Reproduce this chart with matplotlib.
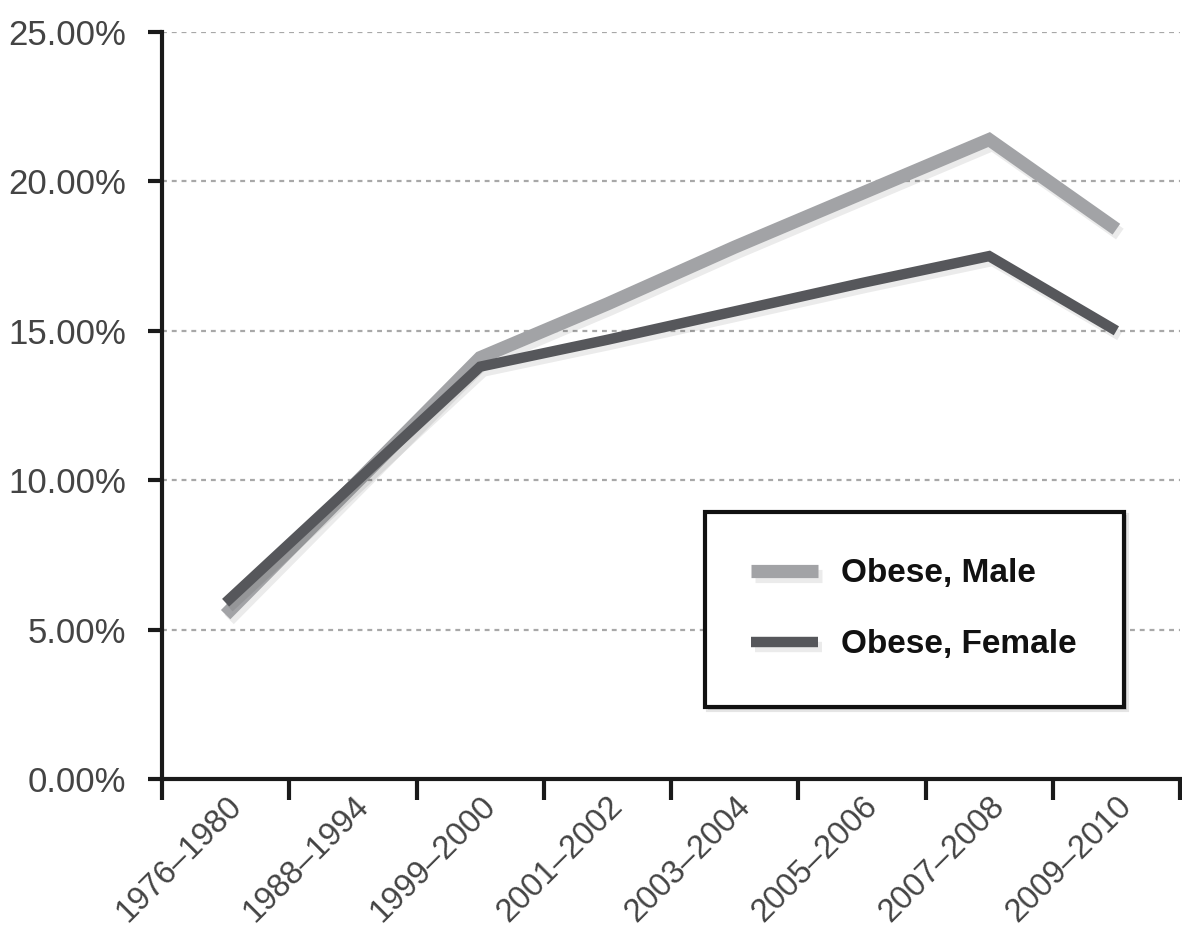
import matplotlib
matplotlib.use('Agg')
import matplotlib.pyplot as plt
import matplotlib.patheffects as pe
from matplotlib.ticker import FixedLocator, PercentFormatter

# Data
periodos = ['1976–1980', '1988–1994', '1999–2000', '2001–2002',
            '2003–2004', '2005–2006', '2007–2008', '2009–2010']
obesos_homem = [5.5, 9.8, 14.1, 15.9, 17.8, 19.6, 21.4, 18.4]
obesos_mulher = [5.9, 9.85, 13.8, 14.7, 15.65, 16.6, 17.5, 15.0]
yticks = [0, 5, 10, 15, 20, 25]

cor_homem = '#a2a3a6'
cor_mulher = '#56575b'
cor_texto = '#444444'

plt.rcParams['font.family'] = ['Liberation Sans', 'DejaVu Sans']

fig = plt.figure(figsize=(11.82, 9.30), dpi=100)
ax = fig.add_axes([162 / 1182, 1 - 779 / 930, (1180 - 162) / 1182, (779 - 32) / 930])

x = list(range(len(periodos)))
sombra = [pe.SimpleLineShadow(offset=(2.5, -3.5), shadow_color='#000000', alpha=0.08), pe.Normal()]
ax.plot(x, obesos_homem, color=cor_homem, lw=9.5, solid_capstyle='butt',
        solid_joinstyle='miter', label='Obese, Male', path_effects=sombra, zorder=3)
ax.plot(x, obesos_mulher, color=cor_mulher, lw=7.5, solid_capstyle='butt',
        solid_joinstyle='miter', label='Obese, Female', path_effects=sombra, zorder=4)

ax.set_xlim(-0.5, len(periodos) - 0.5)
ax.set_ylim(0, 25)

# grid
for v in yticks[1:]:
    ax.axhline(v, color='#a8a8a8', lw=1.6, ls=(0, (2.2, 2.2)), zorder=1)

ax.yaxis.set_major_locator(FixedLocator(yticks))
ax.yaxis.set_major_formatter(PercentFormatter(decimals=2))
ax.tick_params(axis='y', length=10, width=3, color='#1a1a1a', pad=16,
               labelsize=25, labelcolor=cor_texto)

ax.set_xticks(x)
ax.set_xticklabels(periodos, rotation=45, ha='right', va='top', rotation_mode='anchor')
ax.set_xticks([i - 0.5 for i in range(len(periodos) + 1)], minor=True)
ax.tick_params(axis='x', which='major', length=0, pad=8, labelsize=23.5, labelcolor=cor_texto)
ax.tick_params(axis='x', which='minor', length=15, width=3, color='#1a1a1a')

for lado in ['top', 'right']:
    ax.spines[lado].set_visible(False)
for lado in ['left', 'bottom']:
    ax.spines[lado].set_linewidth(3)
    ax.spines[lado].set_color('#1a1a1a')

leg = ax.legend(loc='center', bbox_to_anchor=(0.739, 0.227), frameon=True, fancybox=False,
                shadow={'color': '#000000', 'alpha': 0.1},
                prop={'weight': 'bold', 'size': 24},
                handlelength=2.0, handletextpad=0.7,
                borderpad=1.4, labelspacing=1.2)
leg.get_frame().set_edgecolor('#111111')
leg.get_frame().set_linewidth(3)
for t in leg.get_texts():
    t.set_color('#111111')

fig.savefig('out.png', dpi=100)
